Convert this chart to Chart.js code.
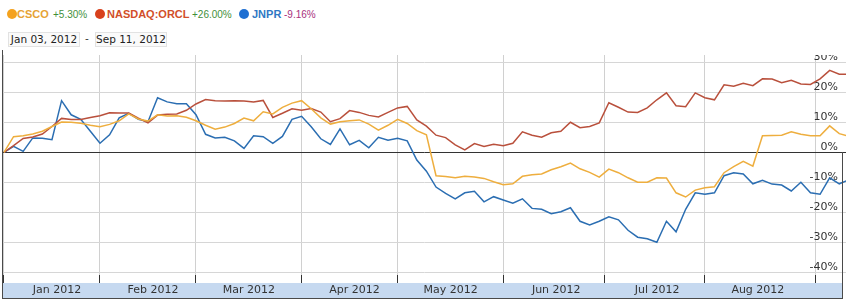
<!DOCTYPE html>
<html>
<head>
<meta charset="utf-8">
<script src="https://cdn.jsdelivr.net/npm/chart.js@4.4.1/dist/chart.umd.min.js"></script>
<style>
  html, body { margin: 0; padding: 0; background: #fff; }
  #wrap { position: relative; width: 846px; height: 301px; overflow: hidden; }
  #chart { position: absolute; left: 0; top: 0; }
  #head { position: absolute; left: 0; top: 0; width: 846px; height: 55px; background: #fff; z-index: 2; }
  .dot { position: absolute; top: 8.5px; width: 10px; height: 10px; border-radius: 50%; }
  .name { position: absolute; top: 8px; line-height: 12px; font: bold 11px "Liberation Sans", Arial, sans-serif; white-space: nowrap; }
  .chg { position: absolute; top: 8.5px; line-height: 12px; font: 10px "Liberation Sans", Arial, sans-serif; white-space: nowrap; }
  .box { position: absolute; top: 32px; width: 72px; height: 15px; line-height: 15px; box-sizing: border-box;
         border: 1px solid #e2e2e2; background: #fafafa; color: #222; text-align: center;
         font: 10.5px "DejaVu Sans", Verdana, sans-serif; white-space: nowrap; }
  .dash { position: absolute; top: 32px; left: 85px; line-height: 15px; font: 10.5px "DejaVu Sans", sans-serif; color: #333; }
  .frame { position: absolute; background: #4a4a4a; z-index: 3; }
</style>
</head>
<body>
<div id="wrap">
  <canvas id="chart" width="846" height="301"></canvas>
  <div id="head">
    <div class="dot" style="left:7px;background:#f4a21e"></div>
    <span class="name" style="left:17px;color:#e6a235">CSCO</span>
    <span class="chg" style="left:53px;color:#3f8f3a">+5.30%</span>
    <div class="dot" style="left:95px;background:#d8411c"></div>
    <span class="name" style="left:107px;color:#d24f2a">NASDAQ:ORCL</span>
    <span class="chg" style="left:192px;color:#3f8f3a">+26.00%</span>
    <div class="dot" style="left:239px;background:#1f6fd2"></div>
    <span class="name" style="left:252px;color:#2f78c4">JNPR</span>
    <span class="chg" style="left:284px;color:#a8307e">-9.16%</span>
    <div class="box" style="left:8px">Jan 03, 2012</div>
    <span class="dash">-</span>
    <div class="box" style="left:95px">Sep 11, 2012</div>
  </div>
  <div class="frame" style="left:2px;top:50px;width:1px;height:249px"></div>
  <div class="frame" style="left:2px;top:298px;width:841px;height:1px"></div>
  <div class="frame" style="left:842px;top:152px;width:1px;height:147px"></div>
</div>
<script>
// trading days since Jan 03, 2012 (sampled every second session)
const days = [0, 2, 4, 6, 8, 10, 12, 14, 16, 18, 20, 22, 24, 26, 28, 30, 32, 34, 36, 38,
  40, 42, 44, 46, 48, 50, 52, 54, 56, 58, 60, 62, 64, 66, 68, 70, 72, 74, 76, 78,
  80, 82, 84, 86, 88, 90, 92, 94, 96, 98, 100, 102, 104, 106, 108, 110, 112, 114, 116, 118,
  120, 122, 124, 126, 128, 130, 132, 134, 136, 138, 140, 142, 144, 146, 148, 150, 152, 154, 156, 158,
  160, 162, 164, 166, 168, 170, 172, 174, 176];

// first session of each month and its label
const monthStarts = [0, 20, 40, 62, 82, 104, 125, 146, 169];
const monthNames = ['Jan 2012', 'Feb 2012', 'Mar 2012', 'Apr 2012', 'May 2012', 'Jun 2012', 'Jul 2012', 'Aug 2012', ''];
const yTicks = [-40, -30, -20, -10, 0, 10, 20, 30];

// % change since start
const csco = [0, 5.2, 5.5, 6.1, 7, 8.6, 10.1, 10, 9.7, 9,
  8.5, 9.3, 10.5, 12.8, 11.1, 10.4, 12.5, 12.1, 12.2, 11.7,
  10.5, 9, 7.7, 8.4, 9.6, 11.4, 10.5, 13.5, 12.8, 15,
  16.4, 17.2, 14.5, 11.5, 9.4, 10.2, 10.5, 10.8, 9.4, 7.4,
  9, 11, 9.6, 7.2, 5.8, -7.8, -8.1, -8.5, -8, -8.2,
  -8.7, -9.8, -10.8, -10.5, -8, -7.5, -7.2, -5.8, -4.8, -3.6,
  -5.5, -6.7, -8.3, -5.6, -6.8, -8.5, -10, -10, -8.5, -8.6,
  -13.5, -14.9, -12.6, -11.8, -11.5, -6.8, -4.8, -3, -4.6, 5.5,
  5.6, 5.7, 6.8, 6, 5.5, 5.5, 8.8, 6.2, 5.3];

const orcl = [0, 2.2, 4.6, 5.1, 6.1, 8.6, 11.3, 10.9, 10.9, 11.6,
  12.2, 13.2, 13.1, 13.1, 11.4, 9.8, 12.4, 12.7, 12.8, 14,
  16.1, 17.6, 17.2, 17.1, 17.2, 17.1, 16.8, 17.3, 11.6, 13,
  14.5, 14, 14.6, 13.4, 10.2, 11.2, 13.9, 13.3, 12.3, 11.8,
  13.3, 14.8, 15.3, 10.8, 8.7, 5.7, 4.9, 2.5, 0.8, 2.9,
  1.9, 2.7, 2.2, 3, 6.8, 5.7, 5, 6.5, 7, 10,
  8.2, 8.6, 9.8, 16.5, 15, 13.4, 13.3, 14.8, 17.5, 19.8,
  15.5, 15.2, 19.8, 18.2, 17.5, 22.5, 22, 23, 22.2, 24.5,
  24.4, 23.2, 24, 22.8, 22.6, 24.5, 27.3, 26, 26];

const jnpr = [0, 2.0, 0.3, 4.8, 4.7, 4.2, 17.2, 12.5, 11, 7,
  3, 5.8, 11.5, 13, 11, 10.2, 18.2, 16.8, 16.2, 16.2,
  12.5, 6, 4.8, 5, 3.8, 1.3, 5.5, 5.2, 3, 5.3,
  11, 12, 8.5, 4.5, 2.6, 7.8, 2.5, 4, 1.5, 5,
  4, 4.7, 3.8, -2.6, -6.3, -11.6, -13.7, -15.5, -13.5, -13,
  -16.5, -14.8, -15.9, -17, -15.5, -18.7, -19, -20.5, -19.8, -18.5,
  -23, -24.2, -23, -21.5, -22.5, -26, -28.3, -28.8, -30, -23,
  -26.5, -19, -13.5, -14, -13.5, -7.8, -6.8, -7.2, -10.5, -9.3,
  -10.6, -10.9, -12.9, -10, -13.5, -14, -8.5, -10.5, -9.2];

function toPoints(values) {
  return values.map((v, i) => ({ x: days[i], y: v }));
}

// light blue strip under the plot that holds the month names
const bandPlugin = {
  id: 'band',
  beforeDraw(chart) {
    const { ctx, chartArea } = chart;
    ctx.save();
    ctx.fillStyle = '#c6d9f0';
    ctx.fillRect(chartArea.left, chartArea.bottom, chartArea.right - chartArea.left - 4, 15);
    ctx.restore();
  }
};

new Chart(document.getElementById('chart'), {
  type: 'line',
  data: {
    datasets: [
      { label: 'CSCO', data: toPoints(csco), borderColor: '#eeae3e', borderWidth: 1.5, pointRadius: 0, tension: 0 },
      { label: 'NASDAQ:ORCL', data: toPoints(orcl), borderColor: '#b9503c', borderWidth: 1.5, pointRadius: 0, tension: 0 },
      { label: 'JNPR', data: toPoints(jnpr), borderColor: '#2b6eb2', borderWidth: 1.5, pointRadius: 0, tension: 0 }
    ]
  },
  options: {
    responsive: false,
    animation: false,
    layout: { padding: { top: 55, left: 3, right: 0, bottom: 3 } },
    plugins: { legend: { display: false }, tooltip: { enabled: false } },
    scales: {
      x: {
        type: 'linear',
        min: -0.2,
        max: 175.4,
        afterFit: s => { s.height = 15; s.paddingLeft = 0; s.paddingRight = 0; },
        afterBuildTicks: s => { s.ticks = monthStarts.map(v => ({ value: v })); },
        grid: { color: '#d0d0d0', tickColor: '#333', tickLength: -8 },
        border: { display: false },
        ticks: {
          autoSkip: false, maxRotation: 0, labelOffset: 53, padding: 9, color: '#333',
          font: { family: 'DejaVu Sans', size: 11 },
          callback: (v, i) => monthNames[i]
        }
      },
      y: {
        position: 'right',
        min: -43.57,
        max: 32.43,
        afterFit: s => { s.width = 0; s.paddingTop = 0; s.paddingBottom = 0; },
        afterBuildTicks: s => { s.ticks = yTicks.map(v => ({ value: v })); },
        grid: { color: c => (c.tick && c.tick.value === 0 ? '#333' : '#d6d6d6'), drawTicks: false },
        border: { display: false },
        ticks: {
          mirror: true, padding: -8, labelOffset: -5, color: '#333',
          font: { family: 'DejaVu Sans', size: 11 },
          callback: v => v + '%'
        }
      }
    }
  },
  plugins: [bandPlugin]
});
</script>
</body>
</html>
